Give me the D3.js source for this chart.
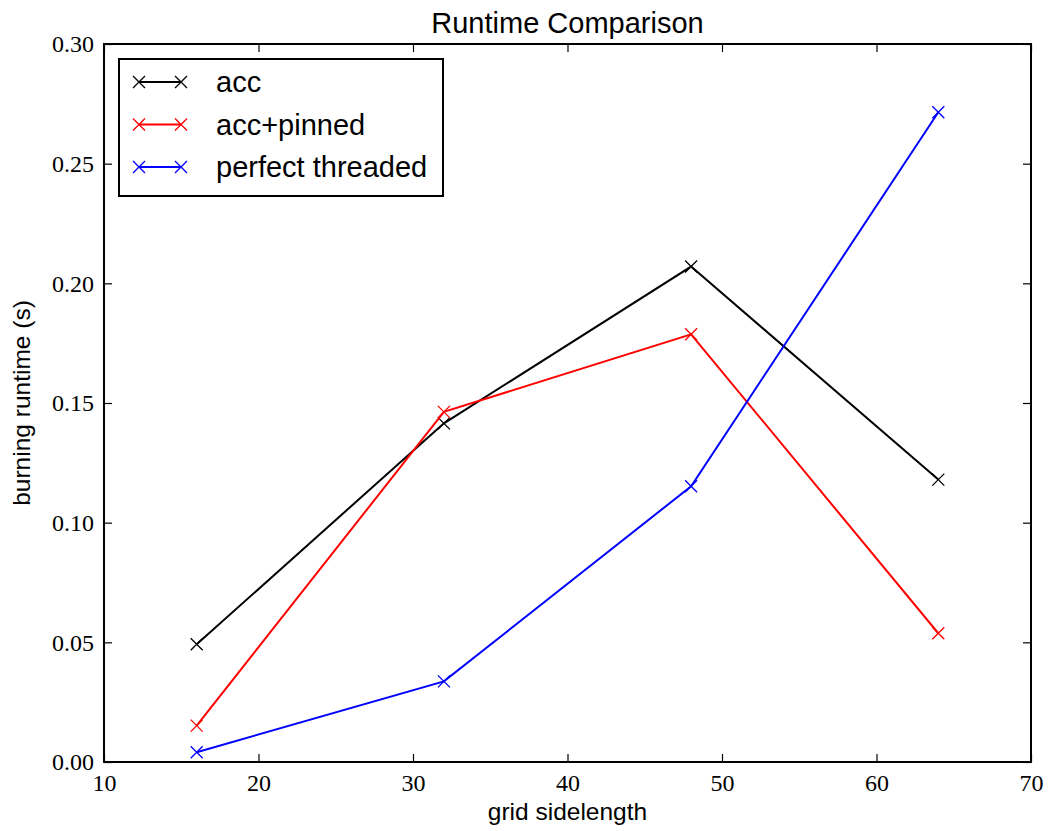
<!DOCTYPE html>
<html>
<head>
<meta charset="utf-8">
<script src="https://cdn.jsdelivr.net/npm/d3@7"></script>
<style>
  html, body { margin: 0; padding: 0; background: #fff; }
  svg { display: block; }
</style>
</head>
<body>
<svg id="chart" width="1050" height="831"></svg>
<script>
// ---- data ----
const gridSizes = [16, 32, 48, 64];
const accValues = [0.0492, 0.1415, 0.2070, 0.1180];
const accPinnedValues = [0.0152, 0.1463, 0.1787, 0.0538];
const perfectThreadedValues = [0.0041, 0.0337, 0.1152, 0.2715];
const seriesNames = ["acc", "acc+pinned", "perfect threaded"];
const seriesColors = ["#000000", "#ff0000", "#0000ff"];
const xTicks = [10, 20, 30, 40, 50, 60, 70];
const yTicks = [0.00, 0.05, 0.10, 0.15, 0.20, 0.25, 0.30];

const series = [
  { name: seriesNames[0], color: seriesColors[0], values: accValues },
  { name: seriesNames[1], color: seriesColors[1], values: accPinnedValues },
  { name: seriesNames[2], color: seriesColors[2], values: perfectThreadedValues }
];

(function () {
// ---- layout ----
const svg = d3.select("#chart");
const pLeft = 104, pRight = 1031, pTop = 44, pBottom = 762;

const x = d3.scaleLinear().domain([10, 70]).range([pLeft, pRight]);
const y = d3.scaleLinear().domain([0, 0.30]).range([pBottom, pTop]);

const tickFont = "'Liberation Serif', 'DejaVu Serif', serif";
const sansFont = "'Liberation Sans', Arial, Helvetica, sans-serif";

// ---- axes (ticks inward, all four sides) ----
const tickLen = 8;
const bottomAxis = d3.axisBottom(x).tickValues(xTicks).tickSizeInner(-tickLen).tickSizeOuter(0)
  .tickPadding(12).tickFormat(d3.format("d"));
const topAxis = d3.axisTop(x).tickValues(xTicks).tickSizeInner(-tickLen).tickSizeOuter(0).tickFormat("");
const leftAxis = d3.axisLeft(y).tickValues(yTicks).tickSizeInner(-tickLen).tickSizeOuter(0)
  .tickPadding(10).tickFormat(d3.format(".2f"));
const rightAxis = d3.axisRight(y).tickValues(yTicks).tickSizeInner(-tickLen).tickSizeOuter(0).tickFormat("");

function styleAxis(g) {
  g.select(".domain").remove();
  g.selectAll(".tick line").attr("stroke", "#000").attr("stroke-width", 1.2);
  g.selectAll(".tick text").attr("fill", "#000")
    .style("font-family", tickFont).style("font-size", "24px");
}

svg.append("g").attr("transform", `translate(0,${pBottom})`).call(bottomAxis).call(styleAxis)
  .selectAll(".tick text").attr("dy", "0.71em");
svg.append("g").attr("transform", `translate(0,${pTop})`).call(topAxis).call(styleAxis);
svg.append("g").attr("transform", `translate(${pLeft},0)`).call(leftAxis).call(styleAxis);
svg.append("g").attr("transform", `translate(${pRight},0)`).call(rightAxis).call(styleAxis);

// ---- lines ----
const line = d3.line().x((d, i) => x(gridSizes[i])).y(d => y(d));
const markerSize = 6;
function drawX(g, cx, cy, color) {
  g.append("path")
    .attr("d", `M${cx - markerSize},${cy - markerSize}L${cx + markerSize},${cy + markerSize}M${cx - markerSize},${cy + markerSize}L${cx + markerSize},${cy - markerSize}`)
    .attr("stroke", color).attr("stroke-width", 1.3).attr("fill", "none");
}

const plot = svg.append("g");
series.forEach(s => {
  plot.append("path").datum(s.values)
    .attr("d", line).attr("fill", "none")
    .attr("stroke", s.color).attr("stroke-width", 2);
  s.values.forEach((v, i) => drawX(plot, x(gridSizes[i]), y(v), s.color));
});

// ---- frame ----
svg.append("rect").attr("x", pLeft).attr("y", pTop)
  .attr("width", pRight - pLeft).attr("height", pBottom - pTop)
  .attr("fill", "none").attr("stroke", "#000").attr("stroke-width", 2);

// ---- legend ----
const legend = svg.append("g");
legend.append("rect").attr("x", 119).attr("y", 59).attr("width", 324).attr("height", 137)
  .attr("fill", "#fff").attr("stroke", "#000").attr("stroke-width", 2);
series.forEach((s, i) => {
  const ly = 82 + i * 42.5;
  legend.append("line").attr("x1", 139).attr("x2", 181).attr("y1", ly).attr("y2", ly)
    .attr("stroke", s.color).attr("stroke-width", 2);
  drawX(legend, 139, ly, s.color);
  drawX(legend, 181, ly, s.color);
  legend.append("text").attr("x", 216).attr("y", ly).attr("dy", "0.35em")
    .style("font-family", sansFont).style("font-size", "29px").attr("fill", "#000")
    .text(s.name);
});

// ---- titles ----
svg.append("text").attr("x", (pLeft + pRight) / 2).attr("y", 33).attr("text-anchor", "middle")
  .style("font-family", sansFont).style("font-size", "29px").text("Runtime Comparison");
svg.append("text").attr("x", (pLeft + pRight) / 2).attr("y", 820).attr("text-anchor", "middle")
  .style("font-family", sansFont).style("font-size", "24.5px").text("grid sidelength");
svg.append("text").attr("transform", `translate(30,${(pTop + pBottom) / 2}) rotate(-90)`)
  .attr("text-anchor", "middle")
  .style("font-family", sansFont).style("font-size", "24.5px").text("burning runtime (s)");
})();
</script>
</body>
</html>
